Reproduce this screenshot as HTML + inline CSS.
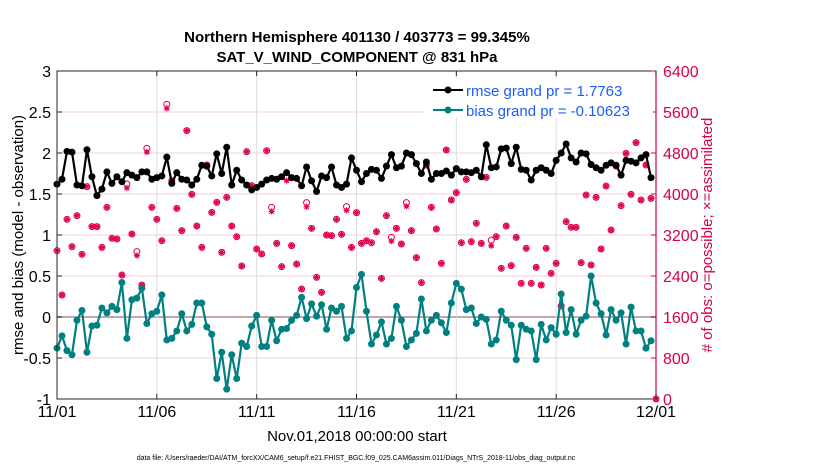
<!DOCTYPE html>
<html><head><meta charset="utf-8"><style>
html,body{margin:0;padding:0;background:#fff;}
svg{display:block;font-family:"Liberation Sans",Arial,sans-serif;}
</style></head><body>
<svg id="chart" width="830" height="470" viewBox="0 0 830 470" xmlns="http://www.w3.org/2000/svg">
<text x="357" y="42" text-anchor="middle" font-size="15" font-weight="bold">Northern Hemisphere 401130 / 403773 = 99.345%</text>
<text x="357" y="62" text-anchor="middle" font-size="15" font-weight="bold">SAT_V_WIND_COMPONENT @ 831 hPa</text>
<g id="grid"></g>
<g id="marks"></g>
<g id="axes"></g>
<text transform="translate(23,235) rotate(-90)" text-anchor="middle" font-size="15">rmse and bias (model - observation)</text>
<text transform="translate(712,235) rotate(-90)" text-anchor="middle" font-size="15" fill="#d6004f"># of obs: o=possible; ×=assimilated</text>
<text x="357" y="441" text-anchor="middle" font-size="15">Nov.01,2018 00:00:00 start</text>
<text x="356" y="460" text-anchor="middle" font-size="7">data file: /Users/raeder/DAI/ATM_forcXX/CAM6_setup/f.e21.FHIST_BGC.f09_025.CAM6assim.011/Diags_NTrS_2018-11/obs_diag_output.nc</text>
<g>
<rect x="425" y="78" width="228" height="40" fill="#fff"/>
<line x1="433" y1="90" x2="463" y2="90" stroke="#000" stroke-width="2"/>
<circle cx="448" cy="90" r="3.5" fill="#000"/>
<text x="466" y="96" font-size="15" fill="#1a5cff">rmse grand pr = 1.7763</text>
<line x1="433" y1="110" x2="463" y2="110" stroke="#008080" stroke-width="2"/>
<circle cx="448" cy="110" r="3.5" fill="#008080"/>
<text x="466" y="116" font-size="15" fill="#1a5cff">bias grand pr = -0.10623</text>
</g>
</svg>
<script>
const xTickLabels = ["11/01","11/06","11/11","11/16","11/21","11/26","12/01"];
const xTickDays = [0,5,10,15,20,25,30];
const yTickLabels = ["-1","-0.5","0","0.5","1","1.5","2","2.5","3"];
const yTickValues = [-1,-0.5,0,0.5,1,1.5,2,2.5,3];
const rTickValues = [0,800,1600,2400,3200,4000,4800,5600,6400];
const rmse = [1.62,1.68,2.02,2.01,1.61,1.60,2.04,1.71,1.48,1.56,1.77,1.63,1.71,1.65,1.76,1.73,1.70,1.77,1.77,1.68,1.70,1.72,1.95,1.63,1.76,1.68,1.67,1.61,1.68,1.85,1.84,1.72,1.99,1.75,2.07,1.61,1.79,1.67,1.61,1.55,1.58,
1.62,1.67,1.69,1.68,1.71,1.76,1.70,1.69,1.60,1.83,1.66,1.53,1.72,1.70,1.83,1.61,1.58,1.62,1.94,1.79,1.65,1.75,1.80,1.79,1.69,1.84,1.98,1.82,1.84,2.00,1.98,1.87,1.75,1.89,1.68,1.75,1.75,1.78,1.73,1.81,
1.77,1.77,1.76,1.79,1.71,2.10,1.82,1.83,2.05,2.06,1.87,2.07,1.80,1.79,1.67,1.79,1.82,1.79,1.75,1.91,2.00,2.11,1.94,1.89,2.00,1.99,1.86,1.82,1.79,1.85,1.88,1.85,1.73,1.91,1.90,1.88,1.94,1.98,1.70];
const bias = [-0.38,-0.23,-0.41,-0.46,-0.04,0.08,-0.43,-0.11,-0.10,0.11,0.05,0.13,0.09,0.42,-0.26,0.21,0.23,0.35,-0.08,0.04,0.07,0.27,-0.28,-0.26,-0.17,0.04,-0.17,-0.09,0.17,0.17,-0.12,-0.21,-0.75,-0.43,-0.88,-0.46,-0.75,-0.32,-0.36,-0.11,0.02,
-0.36,-0.36,-0.04,-0.29,-0.15,-0.14,-0.04,0.02,0.24,-0.02,0.16,0.01,0.15,-0.15,0.11,0.07,0.13,-0.26,-0.17,0.36,0.52,0.07,-0.33,-0.22,-0.06,-0.33,-0.26,0.13,-0.04,-0.36,-0.28,-0.20,0.22,-0.17,-0.04,0.02,-0.07,-0.19,0.17,0.41,
0.34,0.09,0.11,-0.08,0.00,-0.03,-0.33,-0.28,0.07,-0.04,-0.10,-0.52,-0.10,-0.15,-0.17,-0.52,-0.09,-0.28,-0.13,-0.21,0.28,-0.19,0.09,-0.21,-0.04,0.01,0.50,0.17,0.04,-0.22,0.09,-0.04,0.05,-0.33,0.12,-0.17,-0.17,-0.38,-0.29];
const obsPossible = [2894,2029,3506,2972,3577,2823,4143,3363,3363,2959,3740,3135,3122,2420,4195,3219,2875,2224,4891,3740,3506,3089,5750,4260,3720,3285,5236,3993,3376,2959,4566,3642,3837,2862,3935,3376,3167,2595,4826,4163,2927,
2829,4845,3740,3037,2582,4325,2992,2634,2146,3831,3330,2374,2081,3200,3187,3506,3213,3753,2959,3636,3037,3089,3050,3265,2354,3577,3154,3330,3024,3831,3285,2758,2270,4566,3740,3317,2647,4858,3883,4026,
3050,4286,3070,3428,3037,4325,3100,3167,2550,3376,2602,3154,2257,2940,2257,2569,2224,2940,2452,2647,1815,3460,3350,3350,2660,3980,2615,3935,2927,4156,3298,4546,3772,4793,3993,5002,3883,4566,3915,0];
const obsAssim = [2894,2029,3506,2972,3577,2823,4143,3363,3363,2959,3740,3135,3122,2420,4120,3219,2800,2224,4820,3740,3506,3089,5672,4260,3720,3285,5236,3993,3376,2959,4566,3642,3837,2862,3935,3376,3167,2595,4826,4163,2927,
2829,4845,3660,3037,2582,4260,2992,2634,2146,3750,3330,2374,2081,3200,3187,3506,3213,3680,2959,3636,3037,3089,3050,3265,2354,3577,3080,3330,3024,3760,3285,2758,2270,4566,3740,3317,2647,4858,3883,4026,
3050,4286,3070,3428,3037,4325,2990,3167,2550,3376,2602,3154,2257,2940,2257,2569,2224,2940,2452,2647,1815,3460,3350,3350,2660,3980,2615,3935,2927,4156,3298,4546,3772,4793,3993,5002,3883,4566,3915,0];

const NS="http://www.w3.org/2000/svg";
const X0=57,X1=656,Y0=71,Y1=399;
function xScale(d){return X0+(d/30)*(X1-X0);}
function yScale(v){return Y1-(v+1)/4*(Y1-Y0);}
function rScale(c){return Y1-c/6400*(Y1-Y0);}
function mk(tag,attrs,parent){const e=document.createElementNS(NS,tag);for(const k in attrs)e.setAttribute(k,attrs[k]);parent.appendChild(e);return e;}
const grid=document.getElementById('grid'),marks=document.getElementById('marks'),axes=document.getElementById('axes');
mk('rect',{x:X0,y:Y0,width:X1-X0,height:Y1-Y0,fill:'#fff'},grid);
yTickValues.forEach(v=>{const l=mk('line',{x1:X0,x2:X1,y1:yScale(v),y2:yScale(v),stroke:v===0?'#c0a8ae':'#f2d0dc','stroke-width':v===0?2:1},grid);

});
xTickDays.forEach(d=>{const l=mk('line',{x1:xScale(d),x2:xScale(d),y1:Y0,y2:Y1,stroke:'#dcdcdc','stroke-width':1},grid);

});
// obs markers
obsPossible.forEach((c,i)=>{const cx=xScale(i/4);
const o=mk('circle',{cx:cx,cy:rScale(c),r:3,fill:'none',stroke:'#e0004f','stroke-width':1},marks);

});
obsAssim.forEach((c,i)=>{const cx=xScale(i/4),cy=rScale(c);
const g=mk('path',{d:`M${cx-3},${cy}h6M${cx},${cy-3}v6M${cx-2.2},${cy-2.2}l4.4,4.4M${cx-2.2},${cy+2.2}l4.4,-4.4`,stroke:'#e0004f','stroke-width':1.2,fill:'none'},marks);

});
function series(arr,color,name){
const pts=arr.map((v,i)=>xScale(i/4).toFixed(1)+','+yScale(v).toFixed(1)).join(' ');
const pl=mk('polyline',{points:pts,fill:'none',stroke:color,'stroke-width':2.2,'stroke-linejoin':'round'},marks);


arr.forEach((v,i)=>{const c=mk('circle',{cx:xScale(i/4),cy:yScale(v),r:3.5,fill:color},marks);

});}
series(rmse,'#000','rmse');
series(bias,'#008080','bias');
// axes box
mk('rect',{x:X0,y:Y0,width:X1-X0,height:Y1-Y0,fill:'none',stroke:'#262626','stroke-width':1},axes);
mk('line',{x1:X1,x2:X1,y1:Y0,y2:Y1,stroke:'#d6004f','stroke-width':1.2},axes);
yTickValues.forEach((v,i)=>{const y=yScale(v);
mk('line',{x1:X0,x2:X0+5,y1:y,y2:y,stroke:'#262626'},axes);
const t=mk('text',{x:X0-6,y:y+6,'text-anchor':'end','font-size':16},axes);
t.textContent=yTickLabels[i];

});
rTickValues.forEach(c=>{const y=rScale(c);
mk('line',{x1:X1-5,x2:X1,y1:y,y2:y,stroke:'#d6004f'},axes);
const t=mk('text',{x:X1+7,y:y+6,'font-size':16,fill:'#d6004f'},axes);
t.textContent=String(c);

});
xTickDays.forEach((d,i)=>{const x=xScale(d);
mk('line',{x1:x,x2:x,y1:Y1,y2:Y1-5,stroke:'#262626'},axes);
mk('line',{x1:x,x2:x,y1:Y0,y2:Y0+5,stroke:'#262626'},axes);
const t=mk('text',{x:x,y:Y1+18,'text-anchor':'middle','font-size':16},axes);
t.textContent=xTickLabels[i];

});
</script>
</body></html>
